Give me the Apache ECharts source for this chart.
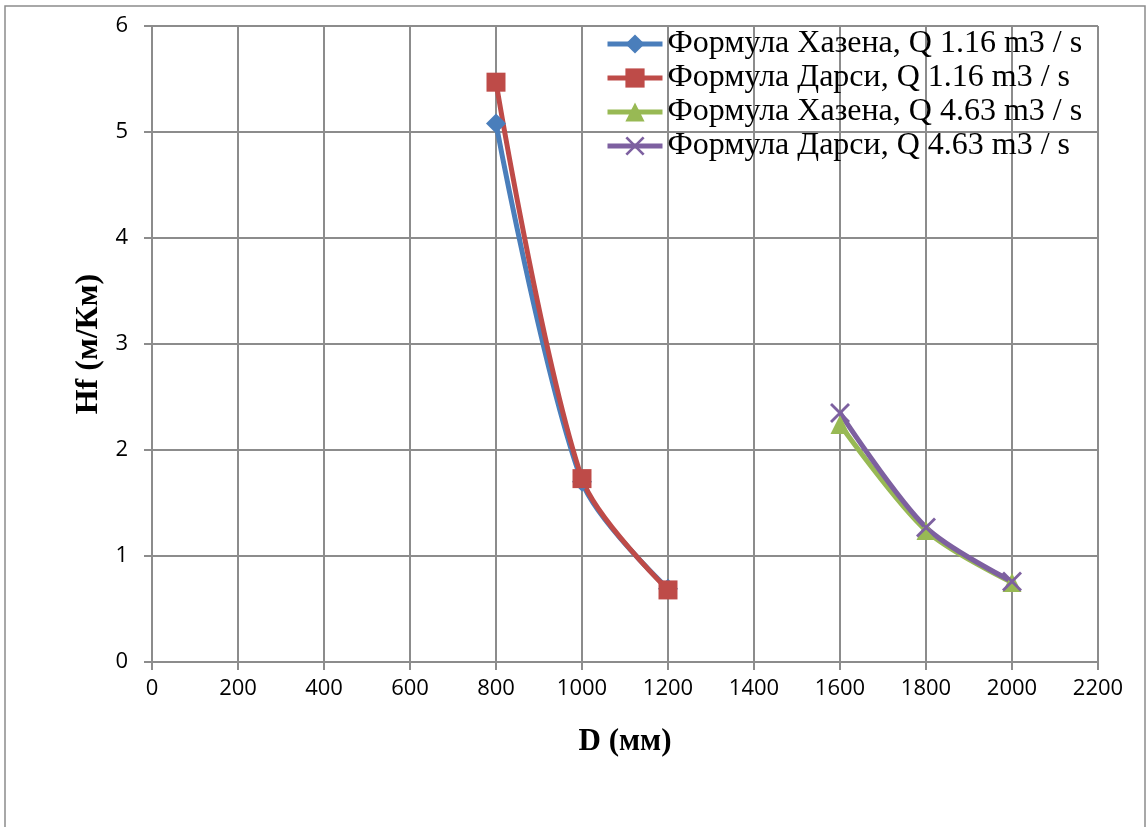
<!DOCTYPE html>
<html>
<head>
<meta charset="utf-8">
<script src="https://cdn.jsdelivr.net/npm/echarts@6/dist/echarts.min.js"></script>
<style>
  html, body { margin: 0; padding: 0; background: #fff; }
  #chart { width: 1147px; height: 827px; }
</style>
</head>
<body>
<div id="chart"></div>
<script>
// Pipe diameter (mm) and head loss (m/km) for two flow rates
const diamSmall = [800, 1000, 1200];
const diamLarge = [1600, 1800, 2000];
const hazenSmall = [5.08, 1.70, 0.69];
const darcySmall = [5.47, 1.73, 0.68];
const hazenLarge = [2.24, 1.24, 0.75];
const darcyLarge = [2.35, 1.27, 0.76];
const seriesNames = [
  'Формула Хазена, Q 1.16 m3 / s',
  'Формула Дарси, Q 1.16 m3 / s',
  'Формула Хазена, Q 4.63 m3 / s',
  'Формула Дарси, Q 4.63 m3 / s'
];

const pairs = (xs, ys) => xs.map((x, i) => [x, ys[i]]);

const gridColor = '#8c8c8c';
const tickFont = '"Open Sans", sans-serif';
const serif = '"Liberation Serif", "Times New Roman", serif';
const crossPath = 'path://M0,1L1,0L10,9L9,10ZM9,0L10,1L1,10L0,9Z';

function lineSeries(name, data, color, symbol, size) {
  return {
    name, type: 'line', data,
    smooth: 0.3,
    symbol, symbolSize: size,
    lineStyle: { color, width: 5 },
    itemStyle: { color },
    emphasis: { disabled: true }
  };
}

const chart = echarts.init(document.getElementById('chart'), null, { renderer: 'canvas' });
chart.setOption({
  animation: false,
  backgroundColor: '#ffffff',
  graphic: [{
    type: 'rect',
    shape: { x: 5, y: 6, width: 1140, height: 900 },
    style: { fill: 'none', stroke: gridColor, lineWidth: 1.5 },
    silent: true
  }],
  grid: { left: 152, top: 26, right: 49, bottom: 165 },
  xAxis: {
    type: 'value', min: 0, max: 2200, interval: 200,
    name: 'D (мм)', nameLocation: 'middle', nameGap: 64,
    nameTextStyle: { fontFamily: serif, fontWeight: 'bold', fontSize: 31, color: '#000' },
    axisLine: { show: true, lineStyle: { color: gridColor, width: 2 } },
    axisTick: { show: true, length: 8, lineStyle: { color: gridColor, width: 2 } },
    axisLabel: { fontFamily: tickFont, fontSize: 22, color: '#000', margin: 16,
                 formatter: v => String(v) },
    splitLine: { show: true, lineStyle: { color: gridColor, width: 2 } }
  },
  yAxis: {
    type: 'value', min: 0, max: 6, interval: 1,
    name: 'Hf (м/Км)', nameLocation: 'middle', nameGap: 44,
    nameTextStyle: { fontFamily: serif, fontWeight: 'bold', fontSize: 32, color: '#000' },
    axisLine: { show: true, lineStyle: { color: gridColor, width: 2 } },
    axisTick: { show: true, length: 8, lineStyle: { color: gridColor, width: 2 } },
    axisLabel: { fontFamily: tickFont, fontSize: 22, color: '#000', margin: 24 },
    splitLine: { show: true, lineStyle: { color: gridColor, width: 2 } }
  },
  legend: {
    orient: 'vertical', left: 600, top: 23,
    itemWidth: 55, itemHeight: 24, itemGap: 2,
    data: seriesNames,
    lineStyle: { width: 5 },
    textStyle: { fontFamily: serif, fontSize: 32, color: '#000', lineHeight: 32, padding: [0, 0, 0, 0] }
  },
  series: [
    lineSeries(seriesNames[0], pairs(diamSmall, hazenSmall), '#4a7ebb', 'diamond', 20),
    lineSeries(seriesNames[1], pairs(diamSmall, darcySmall), '#be4b48', 'rect', 19),
    lineSeries(seriesNames[2], pairs(diamLarge, hazenLarge), '#98b954', 'triangle', 19),
    lineSeries(seriesNames[3], pairs(diamLarge, darcyLarge), '#7d60a0', crossPath, 20)
  ]
});
</script>
</body>
</html>
